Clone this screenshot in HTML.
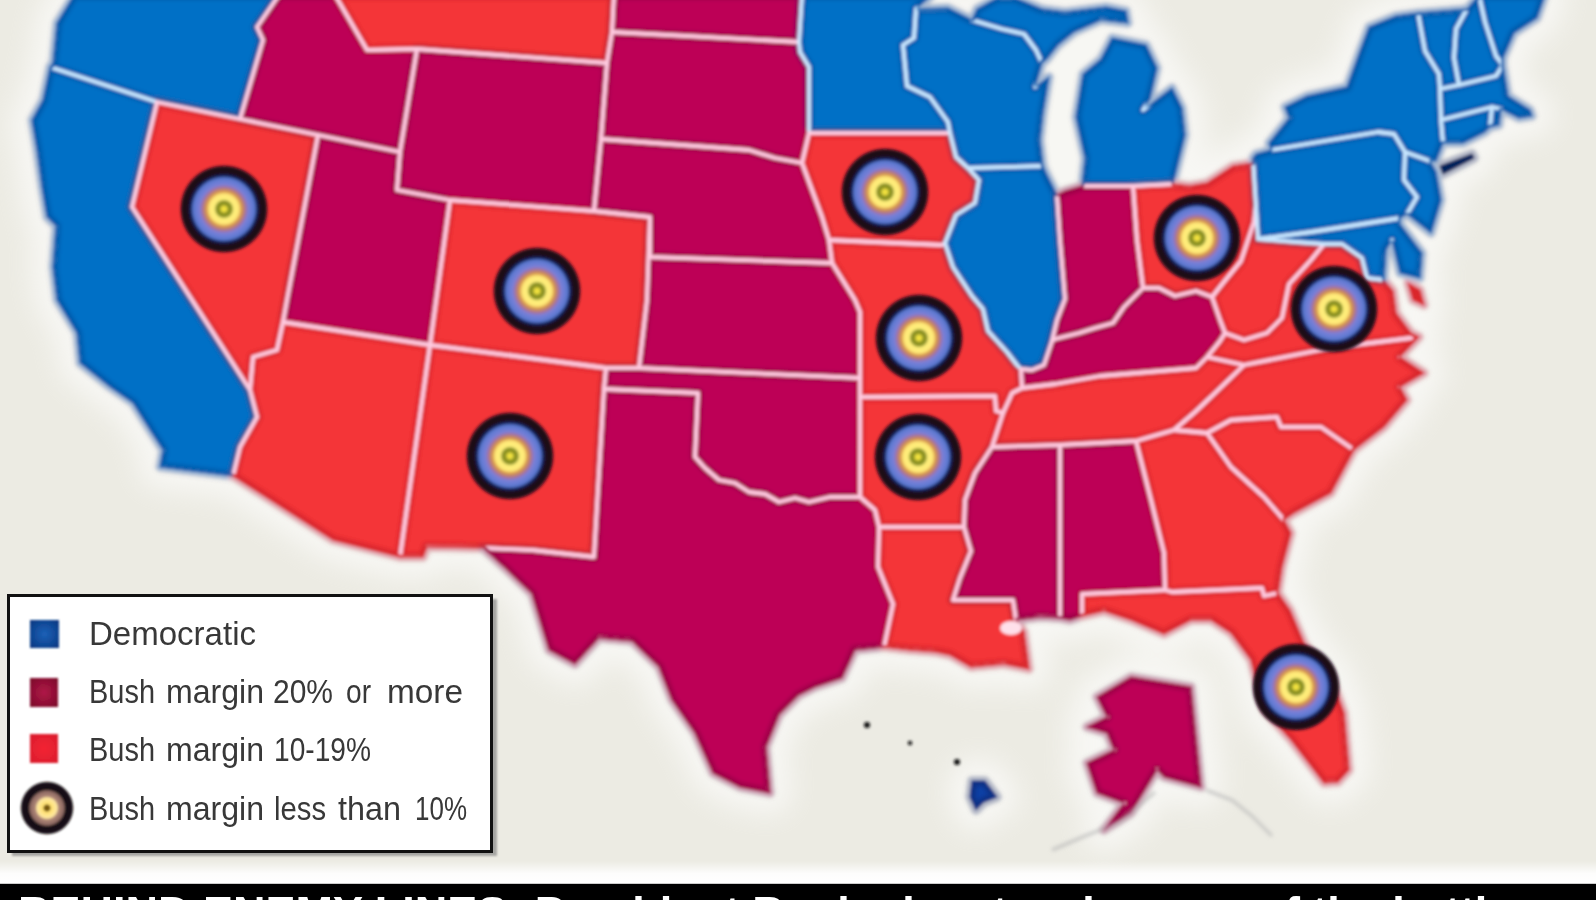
<!DOCTYPE html>
<html><head><meta charset="utf-8"><title>Map</title>
<style>
html,body{margin:0;padding:0;background:#ecebe3;}
#wrap{position:relative;width:1596px;height:900px;overflow:hidden;background:#ecebe3;font-family:"Liberation Sans",sans-serif;}
</style></head><body>
<div id="wrap">
<svg width="1596" height="900" viewBox="0 0 1596 900" style="position:absolute;left:0;top:0">
<defs>
<filter id="bl" x="-5%" y="-5%" width="110%" height="110%"><feGaussianBlur stdDeviation="1.6"/></filter>
<filter id="bl3" x="-5%" y="-5%" width="110%" height="110%"><feGaussianBlur stdDeviation="13"/></filter>
<filter id="erode" x="0" y="0" width="100%" height="100%"><feMorphology operator="erode" radius="3.4"/></filter>
<filter id="bl2" x="-20%" y="-20%" width="140%" height="140%"><feGaussianBlur stdDeviation="1.8"/></filter>
<radialGradient id="tg" cx="50%" cy="50%" r="50%">
<stop offset="0" stop-color="#f4e43c"/><stop offset="0.06" stop-color="#f0e040"/>
<stop offset="0.10" stop-color="#8a9020"/><stop offset="0.18" stop-color="#8a9020"/>
<stop offset="0.22" stop-color="#fff07a"/><stop offset="0.34" stop-color="#ffe878"/>
<stop offset="0.38" stop-color="#e0a44c"/><stop offset="0.44" stop-color="#c48460"/>
<stop offset="0.50" stop-color="#a070a4"/><stop offset="0.55" stop-color="#7c80d8"/>
<stop offset="0.70" stop-color="#5878d0"/>
<stop offset="0.75" stop-color="#10205c"/><stop offset="0.82" stop-color="#1c0818"/><stop offset="0.96" stop-color="#1c0818"/>
<stop offset="1" stop-color="#1c0818" stop-opacity="0"/>
</radialGradient>
</defs>
<rect width="1596" height="900" fill="#ecebe3"/>
<g filter="url(#bl3)" fill="#fff" stroke="#fff" stroke-width="44" stroke-linejoin="round" opacity="0.6">
<polygon points="74,-5 57,23 53,63 50,67 157,102 240,119 263,40 257,27 279,-5"/>
<polygon points="50,67 43,100 32,120 37,150 42,187 47,217 56,226 53,267 57,300 77,333 80,363 110,387 133,403 150,430 163,450 160,467 233,476 240,447 257,417 250,390 132,207 157,102"/>
<polygon points="157,102 240,119 318,135 287,300 283,322 277,350 253,357 250,390 132,207"/>
<polygon points="279,-5 257,27 263,40 240,119 318,135 400,152 417,49 367,50 335,-5"/>
<polygon points="335,-5 367,50 417,49 607,63 612,32 614,-5"/>
<polygon points="417,49 607,63 601,139 594,211 450,200 397,190 400,152"/>
<polygon points="318,135 400,152 397,190 450,200 430,345 283,322 287,300"/>
<polygon points="450,200 594,211 650,217 647,300 639,368 606,368 430,345"/>
<polygon points="283,322 430,345 400,557 333,540 233,476 240,447 257,417 250,390 253,357 277,350"/>
<polygon points="430,345 606,368 604,389 594,557 532,550 483,548 427,547 423,557 400,557"/>
<polygon points="614,-5 612,32 799,42 802,-5"/>
<polygon points="612,32 607,63 601,139 749,150 775,158 802,163 809,133 809,67 800,52 799,42"/>
<polygon points="601,139 749,150 775,158 802,163 822,217 829,240 832,263 650,257 650,217 594,211"/>
<polygon points="650,257 832,263 855,300 860,312 860,378 639,368 647,300 650,217"/>
<polygon points="606,368 639,368 860,378 860,397 860,497 849,497 830,497 809,502 795,498 779,502 765,494 749,492 735,483 719,480 705,468 695,457 698,393 604,389"/>
<polygon points="604,389 698,393 695,457 705,468 719,480 735,483 749,492 765,494 779,502 795,498 809,502 830,497 849,497 860,497 875,510 879,527 878,567 893,604 884,647 855,650 842,678 815,687 799,695 779,715 766,747 770,793 740,787 713,773 695,733 672,700 659,667 632,641 599,638 575,664 549,650 532,594 505,568 483,548 532,550 594,557"/>
<polygon points="802,-5 799,42 800,52 809,67 809,133 950,133 948,122 930,97 907,86 903,45 914,38 916,9 932,-5"/>
<polygon points="809,133 950,133 956,157 968,168 979,180 975,203 956,215 945,243 942,245 829,240 822,217 802,163"/>
<polygon points="829,240 942,245 945,243 953,267 972,296 983,309 988,331 1007,352 1017,365 1021,369 1022,388 1012,393 1009,400 1003,413 996,411 995,396 860,397 860,378 860,312 855,300 832,263"/>
<polygon points="860,397 995,396 996,411 1003,413 992,447 975,473 965,500 964,527 879,527 875,510 860,497"/>
<polygon points="879,527 964,527 971,551 960,578 953,600 1013,600 1016,620 1024,632 1029,669 1004,664 971,667 950,655 936,652 910,650 884,647 893,604 878,567"/>
<polygon points="916,9 914,38 903,45 907,86 930,97 948,122 950,133 956,157 968,168 1043,166 1040,140 1043,113 1049,77 1035,87 1042,63 1036,50 1024,34 1002,29 972,20 948,8"/>
<polygon points="968,168 1043,166 1047,175 1057,195 1060,240 1065,299 1057,320 1052,341 1044,365 1032,370 1021,369 1017,365 1007,352 988,331 983,309 972,296 953,267 945,243 945,243 956,215 975,203 979,180"/>
<polygon points="977,9 997,-2 1015,-2 1042,9 1065,12 1106,7 1126,11 1128,23 1101,20 1074,32 1058,45 1047,59 1042,63 1036,50 1024,34 1002,29 972,20"/>
<polygon points="1112,38 1146,45 1157,68 1150,99 1143,110 1172,88 1182,108 1185,135 1173,184 1133,186 1082,186 1085,158 1076,117 1083,74 1101,59"/>
<polygon points="1057,195 1065,191 1082,186 1133,186 1137,240 1143,288 1124,307 1113,323 1095,328 1079,333 1055,339 1052,341 1057,320 1065,299 1060,240"/>
<polygon points="1133,186 1173,184 1190,186 1207,183 1233,166 1253,163 1253,158 1256,205 1254,222 1241,261 1223,283 1212,297 1196,291 1175,296 1159,288 1143,288 1137,240"/>
<polygon points="1055,339 1079,333 1095,328 1113,323 1124,307 1143,288 1159,288 1175,296 1196,291 1212,297 1220,320 1225,333 1220,341 1207,357 1196,368 1100,376 1055,384 1022,388 1021,369 1032,370 1044,365 1052,341"/>
<polygon points="1022,388 1055,384 1100,376 1196,368 1207,357 1244,365 1215,393 1195,412 1174,430 1136,441 1060,445 992,447 1003,413 1009,400 1012,393"/>
<polygon points="992,447 1060,445 1060,618 1040,617 1016,620 1013,600 953,600 960,578 971,551 964,527 965,500 975,473"/>
<polygon points="1060,445 1136,441 1151,500 1164,553 1165,590 1082,594 1082,616 1070,620 1060,618"/>
<polygon points="1136,441 1174,430 1207,433 1231,467 1264,497 1284,520 1291,533 1282,567 1278,593 1264,596 1262,588 1172,592 1165,590 1164,553 1151,500"/>
<polygon points="1082,594 1165,590 1172,592 1262,588 1264,596 1278,593 1290,610 1304,643 1331,677 1344,713 1349,770 1338,782 1324,783 1291,740 1264,710 1256,680 1251,660 1231,633 1211,620 1191,620 1164,634 1131,620 1104,611 1082,616"/>
<polygon points="1244,365 1330,348 1419,337 1400,357 1424,373 1400,387 1407,400 1384,427 1354,450 1321,427 1281,427 1277,417 1231,420 1207,433 1174,430 1174,430 1195,412 1215,393"/>
<polygon points="1207,433 1231,420 1277,417 1281,427 1321,427 1354,450 1331,493 1294,513 1284,520 1264,497 1231,467"/>
<polygon points="1256,205 1258,239 1296,242 1324,244 1311,260 1289,284 1282,318 1267,333 1244,340 1225,333 1220,320 1212,297 1223,283 1241,261 1254,222"/>
<polygon points="1324,244 1342,244 1362,258 1367,278 1384,280 1393,291 1396,313 1411,333 1419,337 1330,348 1244,365 1207,357 1220,341 1225,333 1244,340 1267,333 1282,318 1289,284 1311,260"/>
<polygon points="1408,283 1420,290 1424,305 1413,300"/>
<polygon points="1253,158 1256,154 1271,150 1378,132 1394,134 1405,152 1404,180 1417,197 1407,214 1400,218 1356,225 1311,232 1258,239"/>
<polygon points="1271,150 1269,143 1289,118 1285,107 1307,96 1347,87 1360,51 1369,27 1396,16 1418,13 1425,51 1439,74 1440,89 1441,120 1443,143 1436,161 1430,161 1405,152 1394,134 1378,132"/>
<polygon points="1440,166 1472,154 1474,158 1443,174"/>
<polygon points="1418,13 1467,9 1456,29 1454,58 1459,85 1440,89 1439,74 1425,51"/>
<polygon points="1467,9 1479,-5 1485,22 1496,56 1503,65 1496,76 1459,85 1454,58 1456,29"/>
<polygon points="1479,-5 1545,-5 1537,18 1514,33 1503,58 1503,65 1496,56 1485,22"/>
<polygon points="1440,89 1459,85 1496,76 1503,65 1508,96 1530,110 1532,116 1519,118 1501,109 1492,107 1441,120"/>
<polygon points="1441,120 1492,107 1490,127 1485,132 1463,143 1443,143"/>
<polygon points="1492,107 1501,109 1499,125 1490,127"/>
<polygon points="1405,152 1430,161 1436,172 1441,200 1431,233 1407,214 1417,197 1404,180"/>
<polygon points="1258,239 1311,232 1356,225 1400,218 1400,224 1422,253 1420,278 1400,273 1392,240 1386,250 1384,280 1367,278 1362,258 1342,244 1324,244 1296,242"/>
<polygon points="1131,677 1191,687 1201,787 1164,777 1157,770 1131,813 1104,830 1124,803 1097,793 1087,763 1114,750 1107,733 1087,727 1107,717 1097,697"/>
<polygon points="972,781 985,781 997,797 984,802 976,810 970,797"/>
</g>
<g filter="url(#bl)">
<g fill="#fff" stroke="#fff" stroke-width="9" stroke-linejoin="round" opacity="0.9">
<polygon points="74,-5 57,23 53,63 50,67 157,102 240,119 263,40 257,27 279,-5"/>
<polygon points="50,67 43,100 32,120 37,150 42,187 47,217 56,226 53,267 57,300 77,333 80,363 110,387 133,403 150,430 163,450 160,467 233,476 240,447 257,417 250,390 132,207 157,102"/>
<polygon points="157,102 240,119 318,135 287,300 283,322 277,350 253,357 250,390 132,207"/>
<polygon points="279,-5 257,27 263,40 240,119 318,135 400,152 417,49 367,50 335,-5"/>
<polygon points="335,-5 367,50 417,49 607,63 612,32 614,-5"/>
<polygon points="417,49 607,63 601,139 594,211 450,200 397,190 400,152"/>
<polygon points="318,135 400,152 397,190 450,200 430,345 283,322 287,300"/>
<polygon points="450,200 594,211 650,217 647,300 639,368 606,368 430,345"/>
<polygon points="283,322 430,345 400,557 333,540 233,476 240,447 257,417 250,390 253,357 277,350"/>
<polygon points="430,345 606,368 604,389 594,557 532,550 483,548 427,547 423,557 400,557"/>
<polygon points="614,-5 612,32 799,42 802,-5"/>
<polygon points="612,32 607,63 601,139 749,150 775,158 802,163 809,133 809,67 800,52 799,42"/>
<polygon points="601,139 749,150 775,158 802,163 822,217 829,240 832,263 650,257 650,217 594,211"/>
<polygon points="650,257 832,263 855,300 860,312 860,378 639,368 647,300 650,217"/>
<polygon points="606,368 639,368 860,378 860,397 860,497 849,497 830,497 809,502 795,498 779,502 765,494 749,492 735,483 719,480 705,468 695,457 698,393 604,389"/>
<polygon points="604,389 698,393 695,457 705,468 719,480 735,483 749,492 765,494 779,502 795,498 809,502 830,497 849,497 860,497 875,510 879,527 878,567 893,604 884,647 855,650 842,678 815,687 799,695 779,715 766,747 770,793 740,787 713,773 695,733 672,700 659,667 632,641 599,638 575,664 549,650 532,594 505,568 483,548 532,550 594,557"/>
<polygon points="802,-5 799,42 800,52 809,67 809,133 950,133 948,122 930,97 907,86 903,45 914,38 916,9 932,-5"/>
<polygon points="809,133 950,133 956,157 968,168 979,180 975,203 956,215 945,243 942,245 829,240 822,217 802,163"/>
<polygon points="829,240 942,245 945,243 953,267 972,296 983,309 988,331 1007,352 1017,365 1021,369 1022,388 1012,393 1009,400 1003,413 996,411 995,396 860,397 860,378 860,312 855,300 832,263"/>
<polygon points="860,397 995,396 996,411 1003,413 992,447 975,473 965,500 964,527 879,527 875,510 860,497"/>
<polygon points="879,527 964,527 971,551 960,578 953,600 1013,600 1016,620 1024,632 1029,669 1004,664 971,667 950,655 936,652 910,650 884,647 893,604 878,567"/>
<polygon points="916,9 914,38 903,45 907,86 930,97 948,122 950,133 956,157 968,168 1043,166 1040,140 1043,113 1049,77 1035,87 1042,63 1036,50 1024,34 1002,29 972,20 948,8"/>
<polygon points="968,168 1043,166 1047,175 1057,195 1060,240 1065,299 1057,320 1052,341 1044,365 1032,370 1021,369 1017,365 1007,352 988,331 983,309 972,296 953,267 945,243 945,243 956,215 975,203 979,180"/>
<polygon points="977,9 997,-2 1015,-2 1042,9 1065,12 1106,7 1126,11 1128,23 1101,20 1074,32 1058,45 1047,59 1042,63 1036,50 1024,34 1002,29 972,20"/>
<polygon points="1112,38 1146,45 1157,68 1150,99 1143,110 1172,88 1182,108 1185,135 1173,184 1133,186 1082,186 1085,158 1076,117 1083,74 1101,59"/>
<polygon points="1057,195 1065,191 1082,186 1133,186 1137,240 1143,288 1124,307 1113,323 1095,328 1079,333 1055,339 1052,341 1057,320 1065,299 1060,240"/>
<polygon points="1133,186 1173,184 1190,186 1207,183 1233,166 1253,163 1253,158 1256,205 1254,222 1241,261 1223,283 1212,297 1196,291 1175,296 1159,288 1143,288 1137,240"/>
<polygon points="1055,339 1079,333 1095,328 1113,323 1124,307 1143,288 1159,288 1175,296 1196,291 1212,297 1220,320 1225,333 1220,341 1207,357 1196,368 1100,376 1055,384 1022,388 1021,369 1032,370 1044,365 1052,341"/>
<polygon points="1022,388 1055,384 1100,376 1196,368 1207,357 1244,365 1215,393 1195,412 1174,430 1136,441 1060,445 992,447 1003,413 1009,400 1012,393"/>
<polygon points="992,447 1060,445 1060,618 1040,617 1016,620 1013,600 953,600 960,578 971,551 964,527 965,500 975,473"/>
<polygon points="1060,445 1136,441 1151,500 1164,553 1165,590 1082,594 1082,616 1070,620 1060,618"/>
<polygon points="1136,441 1174,430 1207,433 1231,467 1264,497 1284,520 1291,533 1282,567 1278,593 1264,596 1262,588 1172,592 1165,590 1164,553 1151,500"/>
<polygon points="1082,594 1165,590 1172,592 1262,588 1264,596 1278,593 1290,610 1304,643 1331,677 1344,713 1349,770 1338,782 1324,783 1291,740 1264,710 1256,680 1251,660 1231,633 1211,620 1191,620 1164,634 1131,620 1104,611 1082,616"/>
<polygon points="1244,365 1330,348 1419,337 1400,357 1424,373 1400,387 1407,400 1384,427 1354,450 1321,427 1281,427 1277,417 1231,420 1207,433 1174,430 1174,430 1195,412 1215,393"/>
<polygon points="1207,433 1231,420 1277,417 1281,427 1321,427 1354,450 1331,493 1294,513 1284,520 1264,497 1231,467"/>
<polygon points="1256,205 1258,239 1296,242 1324,244 1311,260 1289,284 1282,318 1267,333 1244,340 1225,333 1220,320 1212,297 1223,283 1241,261 1254,222"/>
<polygon points="1324,244 1342,244 1362,258 1367,278 1384,280 1393,291 1396,313 1411,333 1419,337 1330,348 1244,365 1207,357 1220,341 1225,333 1244,340 1267,333 1282,318 1289,284 1311,260"/>
<polygon points="1408,283 1420,290 1424,305 1413,300"/>
<polygon points="1253,158 1256,154 1271,150 1378,132 1394,134 1405,152 1404,180 1417,197 1407,214 1400,218 1356,225 1311,232 1258,239"/>
<polygon points="1271,150 1269,143 1289,118 1285,107 1307,96 1347,87 1360,51 1369,27 1396,16 1418,13 1425,51 1439,74 1440,89 1441,120 1443,143 1436,161 1430,161 1405,152 1394,134 1378,132"/>
<polygon points="1440,166 1472,154 1474,158 1443,174"/>
<polygon points="1418,13 1467,9 1456,29 1454,58 1459,85 1440,89 1439,74 1425,51"/>
<polygon points="1467,9 1479,-5 1485,22 1496,56 1503,65 1496,76 1459,85 1454,58 1456,29"/>
<polygon points="1479,-5 1545,-5 1537,18 1514,33 1503,58 1503,65 1496,56 1485,22"/>
<polygon points="1440,89 1459,85 1496,76 1503,65 1508,96 1530,110 1532,116 1519,118 1501,109 1492,107 1441,120"/>
<polygon points="1441,120 1492,107 1490,127 1485,132 1463,143 1443,143"/>
<polygon points="1492,107 1501,109 1499,125 1490,127"/>
<polygon points="1405,152 1430,161 1436,172 1441,200 1431,233 1407,214 1417,197 1404,180"/>
<polygon points="1258,239 1311,232 1356,225 1400,218 1400,224 1422,253 1420,278 1400,273 1392,240 1386,250 1384,280 1367,278 1362,258 1342,244 1324,244 1296,242"/>
<polygon points="1131,677 1191,687 1201,787 1164,777 1157,770 1131,813 1104,830 1124,803 1097,793 1087,763 1114,750 1107,733 1087,727 1107,717 1097,697"/>
<polygon points="972,781 985,781 997,797 984,802 976,810 970,797"/>
</g>
<g fill="none" stroke-linejoin="round" stroke-width="5.5" opacity="0.85">
<polygon points="74,-5 57,23 53,63 50,67 157,102 240,119 263,40 257,27 279,-5" stroke="#d4ebff"/>
<polygon points="50,67 43,100 32,120 37,150 42,187 47,217 56,226 53,267 57,300 77,333 80,363 110,387 133,403 150,430 163,450 160,467 233,476 240,447 257,417 250,390 132,207 157,102" stroke="#d4ebff"/>
<polygon points="157,102 240,119 318,135 287,300 283,322 277,350 253,357 250,390 132,207" stroke="#ffd9e6"/>
<polygon points="279,-5 257,27 263,40 240,119 318,135 400,152 417,49 367,50 335,-5" stroke="#ffd9e6"/>
<polygon points="335,-5 367,50 417,49 607,63 612,32 614,-5" stroke="#ffd9e6"/>
<polygon points="417,49 607,63 601,139 594,211 450,200 397,190 400,152" stroke="#ffd9e6"/>
<polygon points="318,135 400,152 397,190 450,200 430,345 283,322 287,300" stroke="#ffd9e6"/>
<polygon points="450,200 594,211 650,217 647,300 639,368 606,368 430,345" stroke="#ffd9e6"/>
<polygon points="283,322 430,345 400,557 333,540 233,476 240,447 257,417 250,390 253,357 277,350" stroke="#ffd9e6"/>
<polygon points="430,345 606,368 604,389 594,557 532,550 483,548 427,547 423,557 400,557" stroke="#ffd9e6"/>
<polygon points="614,-5 612,32 799,42 802,-5" stroke="#ffd9e6"/>
<polygon points="612,32 607,63 601,139 749,150 775,158 802,163 809,133 809,67 800,52 799,42" stroke="#ffd9e6"/>
<polygon points="601,139 749,150 775,158 802,163 822,217 829,240 832,263 650,257 650,217 594,211" stroke="#ffd9e6"/>
<polygon points="650,257 832,263 855,300 860,312 860,378 639,368 647,300 650,217" stroke="#ffd9e6"/>
<polygon points="606,368 639,368 860,378 860,397 860,497 849,497 830,497 809,502 795,498 779,502 765,494 749,492 735,483 719,480 705,468 695,457 698,393 604,389" stroke="#ffd9e6"/>
<polygon points="604,389 698,393 695,457 705,468 719,480 735,483 749,492 765,494 779,502 795,498 809,502 830,497 849,497 860,497 875,510 879,527 878,567 893,604 884,647 855,650 842,678 815,687 799,695 779,715 766,747 770,793 740,787 713,773 695,733 672,700 659,667 632,641 599,638 575,664 549,650 532,594 505,568 483,548 532,550 594,557" stroke="#ffd9e6"/>
<polygon points="802,-5 799,42 800,52 809,67 809,133 950,133 948,122 930,97 907,86 903,45 914,38 916,9 932,-5" stroke="#d4ebff"/>
<polygon points="809,133 950,133 956,157 968,168 979,180 975,203 956,215 945,243 942,245 829,240 822,217 802,163" stroke="#ffd9e6"/>
<polygon points="829,240 942,245 945,243 953,267 972,296 983,309 988,331 1007,352 1017,365 1021,369 1022,388 1012,393 1009,400 1003,413 996,411 995,396 860,397 860,378 860,312 855,300 832,263" stroke="#ffd9e6"/>
<polygon points="860,397 995,396 996,411 1003,413 992,447 975,473 965,500 964,527 879,527 875,510 860,497" stroke="#ffd9e6"/>
<polygon points="879,527 964,527 971,551 960,578 953,600 1013,600 1016,620 1024,632 1029,669 1004,664 971,667 950,655 936,652 910,650 884,647 893,604 878,567" stroke="#ffd9e6"/>
<polygon points="916,9 914,38 903,45 907,86 930,97 948,122 950,133 956,157 968,168 1043,166 1040,140 1043,113 1049,77 1035,87 1042,63 1036,50 1024,34 1002,29 972,20 948,8" stroke="#d4ebff"/>
<polygon points="968,168 1043,166 1047,175 1057,195 1060,240 1065,299 1057,320 1052,341 1044,365 1032,370 1021,369 1017,365 1007,352 988,331 983,309 972,296 953,267 945,243 945,243 956,215 975,203 979,180" stroke="#d4ebff"/>
<polygon points="977,9 997,-2 1015,-2 1042,9 1065,12 1106,7 1126,11 1128,23 1101,20 1074,32 1058,45 1047,59 1042,63 1036,50 1024,34 1002,29 972,20" stroke="#d4ebff"/>
<polygon points="1112,38 1146,45 1157,68 1150,99 1143,110 1172,88 1182,108 1185,135 1173,184 1133,186 1082,186 1085,158 1076,117 1083,74 1101,59" stroke="#d4ebff"/>
<polygon points="1057,195 1065,191 1082,186 1133,186 1137,240 1143,288 1124,307 1113,323 1095,328 1079,333 1055,339 1052,341 1057,320 1065,299 1060,240" stroke="#ffd9e6"/>
<polygon points="1133,186 1173,184 1190,186 1207,183 1233,166 1253,163 1253,158 1256,205 1254,222 1241,261 1223,283 1212,297 1196,291 1175,296 1159,288 1143,288 1137,240" stroke="#ffd9e6"/>
<polygon points="1055,339 1079,333 1095,328 1113,323 1124,307 1143,288 1159,288 1175,296 1196,291 1212,297 1220,320 1225,333 1220,341 1207,357 1196,368 1100,376 1055,384 1022,388 1021,369 1032,370 1044,365 1052,341" stroke="#ffd9e6"/>
<polygon points="1022,388 1055,384 1100,376 1196,368 1207,357 1244,365 1215,393 1195,412 1174,430 1136,441 1060,445 992,447 1003,413 1009,400 1012,393" stroke="#ffd9e6"/>
<polygon points="992,447 1060,445 1060,618 1040,617 1016,620 1013,600 953,600 960,578 971,551 964,527 965,500 975,473" stroke="#ffd9e6"/>
<polygon points="1060,445 1136,441 1151,500 1164,553 1165,590 1082,594 1082,616 1070,620 1060,618" stroke="#ffd9e6"/>
<polygon points="1136,441 1174,430 1207,433 1231,467 1264,497 1284,520 1291,533 1282,567 1278,593 1264,596 1262,588 1172,592 1165,590 1164,553 1151,500" stroke="#ffd9e6"/>
<polygon points="1082,594 1165,590 1172,592 1262,588 1264,596 1278,593 1290,610 1304,643 1331,677 1344,713 1349,770 1338,782 1324,783 1291,740 1264,710 1256,680 1251,660 1231,633 1211,620 1191,620 1164,634 1131,620 1104,611 1082,616" stroke="#ffd9e6"/>
<polygon points="1244,365 1330,348 1419,337 1400,357 1424,373 1400,387 1407,400 1384,427 1354,450 1321,427 1281,427 1277,417 1231,420 1207,433 1174,430 1174,430 1195,412 1215,393" stroke="#ffd9e6"/>
<polygon points="1207,433 1231,420 1277,417 1281,427 1321,427 1354,450 1331,493 1294,513 1284,520 1264,497 1231,467" stroke="#ffd9e6"/>
<polygon points="1256,205 1258,239 1296,242 1324,244 1311,260 1289,284 1282,318 1267,333 1244,340 1225,333 1220,320 1212,297 1223,283 1241,261 1254,222" stroke="#ffd9e6"/>
<polygon points="1324,244 1342,244 1362,258 1367,278 1384,280 1393,291 1396,313 1411,333 1419,337 1330,348 1244,365 1207,357 1220,341 1225,333 1244,340 1267,333 1282,318 1289,284 1311,260" stroke="#ffd9e6"/>
<polygon points="1408,283 1420,290 1424,305 1413,300" stroke="#ffd9e6"/>
<polygon points="1253,158 1256,154 1271,150 1378,132 1394,134 1405,152 1404,180 1417,197 1407,214 1400,218 1356,225 1311,232 1258,239" stroke="#d4ebff"/>
<polygon points="1271,150 1269,143 1289,118 1285,107 1307,96 1347,87 1360,51 1369,27 1396,16 1418,13 1425,51 1439,74 1440,89 1441,120 1443,143 1436,161 1430,161 1405,152 1394,134 1378,132" stroke="#d4ebff"/>
<polygon points="1418,13 1467,9 1456,29 1454,58 1459,85 1440,89 1439,74 1425,51" stroke="#d4ebff"/>
<polygon points="1467,9 1479,-5 1485,22 1496,56 1503,65 1496,76 1459,85 1454,58 1456,29" stroke="#d4ebff"/>
<polygon points="1479,-5 1545,-5 1537,18 1514,33 1503,58 1503,65 1496,56 1485,22" stroke="#d4ebff"/>
<polygon points="1440,89 1459,85 1496,76 1503,65 1508,96 1530,110 1532,116 1519,118 1501,109 1492,107 1441,120" stroke="#d4ebff"/>
<polygon points="1441,120 1492,107 1490,127 1485,132 1463,143 1443,143" stroke="#d4ebff"/>
<polygon points="1492,107 1501,109 1499,125 1490,127" stroke="#d4ebff"/>
<polygon points="1405,152 1430,161 1436,172 1441,200 1431,233 1407,214 1417,197 1404,180" stroke="#d4ebff"/>
<polygon points="1258,239 1311,232 1356,225 1400,218 1400,224 1422,253 1420,278 1400,273 1392,240 1386,250 1384,280 1367,278 1362,258 1342,244 1324,244 1296,242" stroke="#d4ebff"/>
<polygon points="1131,677 1191,687 1201,787 1164,777 1157,770 1131,813 1104,830 1124,803 1097,793 1087,763 1114,750 1107,733 1087,727 1107,717 1097,697" stroke="#ffd9e6"/>
</g>
<polygon points="74,-5 57,23 53,63 50,67 157,102 240,119 263,40 257,27 279,-5" fill="#0570c6" stroke="#0570c6" stroke-width="1"/>
<polygon points="50,67 43,100 32,120 37,150 42,187 47,217 56,226 53,267 57,300 77,333 80,363 110,387 133,403 150,430 163,450 160,467 233,476 240,447 257,417 250,390 132,207 157,102" fill="#0570c6" stroke="#0570c6" stroke-width="1"/>
<polygon points="157,102 240,119 318,135 287,300 283,322 277,350 253,357 250,390 132,207" fill="#f43437" stroke="#f43437" stroke-width="1"/>
<polygon points="279,-5 257,27 263,40 240,119 318,135 400,152 417,49 367,50 335,-5" fill="#bd0157" stroke="#bd0157" stroke-width="1"/>
<polygon points="335,-5 367,50 417,49 607,63 612,32 614,-5" fill="#f43437" stroke="#f43437" stroke-width="1"/>
<polygon points="417,49 607,63 601,139 594,211 450,200 397,190 400,152" fill="#bd0157" stroke="#bd0157" stroke-width="1"/>
<polygon points="318,135 400,152 397,190 450,200 430,345 283,322 287,300" fill="#bd0157" stroke="#bd0157" stroke-width="1"/>
<polygon points="450,200 594,211 650,217 647,300 639,368 606,368 430,345" fill="#f43437" stroke="#f43437" stroke-width="1"/>
<polygon points="283,322 430,345 400,557 333,540 233,476 240,447 257,417 250,390 253,357 277,350" fill="#f43437" stroke="#f43437" stroke-width="1"/>
<polygon points="430,345 606,368 604,389 594,557 532,550 483,548 427,547 423,557 400,557" fill="#f43437" stroke="#f43437" stroke-width="1"/>
<polygon points="614,-5 612,32 799,42 802,-5" fill="#bd0157" stroke="#bd0157" stroke-width="1"/>
<polygon points="612,32 607,63 601,139 749,150 775,158 802,163 809,133 809,67 800,52 799,42" fill="#bd0157" stroke="#bd0157" stroke-width="1"/>
<polygon points="601,139 749,150 775,158 802,163 822,217 829,240 832,263 650,257 650,217 594,211" fill="#bd0157" stroke="#bd0157" stroke-width="1"/>
<polygon points="650,257 832,263 855,300 860,312 860,378 639,368 647,300 650,217" fill="#bd0157" stroke="#bd0157" stroke-width="1"/>
<polygon points="606,368 639,368 860,378 860,397 860,497 849,497 830,497 809,502 795,498 779,502 765,494 749,492 735,483 719,480 705,468 695,457 698,393 604,389" fill="#bd0157" stroke="#bd0157" stroke-width="1"/>
<polygon points="604,389 698,393 695,457 705,468 719,480 735,483 749,492 765,494 779,502 795,498 809,502 830,497 849,497 860,497 875,510 879,527 878,567 893,604 884,647 855,650 842,678 815,687 799,695 779,715 766,747 770,793 740,787 713,773 695,733 672,700 659,667 632,641 599,638 575,664 549,650 532,594 505,568 483,548 532,550 594,557" fill="#bd0157" stroke="#bd0157" stroke-width="1"/>
<polygon points="802,-5 799,42 800,52 809,67 809,133 950,133 948,122 930,97 907,86 903,45 914,38 916,9 932,-5" fill="#0570c6" stroke="#0570c6" stroke-width="1"/>
<polygon points="809,133 950,133 956,157 968,168 979,180 975,203 956,215 945,243 942,245 829,240 822,217 802,163" fill="#f43437" stroke="#f43437" stroke-width="1"/>
<polygon points="829,240 942,245 945,243 953,267 972,296 983,309 988,331 1007,352 1017,365 1021,369 1022,388 1012,393 1009,400 1003,413 996,411 995,396 860,397 860,378 860,312 855,300 832,263" fill="#f43437" stroke="#f43437" stroke-width="1"/>
<polygon points="860,397 995,396 996,411 1003,413 992,447 975,473 965,500 964,527 879,527 875,510 860,497" fill="#f43437" stroke="#f43437" stroke-width="1"/>
<polygon points="879,527 964,527 971,551 960,578 953,600 1013,600 1016,620 1024,632 1029,669 1004,664 971,667 950,655 936,652 910,650 884,647 893,604 878,567" fill="#f43437" stroke="#f43437" stroke-width="1"/>
<polygon points="916,9 914,38 903,45 907,86 930,97 948,122 950,133 956,157 968,168 1043,166 1040,140 1043,113 1049,77 1035,87 1042,63 1036,50 1024,34 1002,29 972,20 948,8" fill="#0570c6" stroke="#0570c6" stroke-width="1"/>
<polygon points="968,168 1043,166 1047,175 1057,195 1060,240 1065,299 1057,320 1052,341 1044,365 1032,370 1021,369 1017,365 1007,352 988,331 983,309 972,296 953,267 945,243 945,243 956,215 975,203 979,180" fill="#0570c6" stroke="#0570c6" stroke-width="1"/>
<polygon points="977,9 997,-2 1015,-2 1042,9 1065,12 1106,7 1126,11 1128,23 1101,20 1074,32 1058,45 1047,59 1042,63 1036,50 1024,34 1002,29 972,20" fill="#0570c6" stroke="#0570c6" stroke-width="1"/>
<polygon points="1112,38 1146,45 1157,68 1150,99 1143,110 1172,88 1182,108 1185,135 1173,184 1133,186 1082,186 1085,158 1076,117 1083,74 1101,59" fill="#0570c6" stroke="#0570c6" stroke-width="1"/>
<polygon points="1057,195 1065,191 1082,186 1133,186 1137,240 1143,288 1124,307 1113,323 1095,328 1079,333 1055,339 1052,341 1057,320 1065,299 1060,240" fill="#bd0157" stroke="#bd0157" stroke-width="1"/>
<polygon points="1133,186 1173,184 1190,186 1207,183 1233,166 1253,163 1253,158 1256,205 1254,222 1241,261 1223,283 1212,297 1196,291 1175,296 1159,288 1143,288 1137,240" fill="#f43437" stroke="#f43437" stroke-width="1"/>
<polygon points="1055,339 1079,333 1095,328 1113,323 1124,307 1143,288 1159,288 1175,296 1196,291 1212,297 1220,320 1225,333 1220,341 1207,357 1196,368 1100,376 1055,384 1022,388 1021,369 1032,370 1044,365 1052,341" fill="#bd0157" stroke="#bd0157" stroke-width="1"/>
<polygon points="1022,388 1055,384 1100,376 1196,368 1207,357 1244,365 1215,393 1195,412 1174,430 1136,441 1060,445 992,447 1003,413 1009,400 1012,393" fill="#f43437" stroke="#f43437" stroke-width="1"/>
<polygon points="992,447 1060,445 1060,618 1040,617 1016,620 1013,600 953,600 960,578 971,551 964,527 965,500 975,473" fill="#bd0157" stroke="#bd0157" stroke-width="1"/>
<polygon points="1060,445 1136,441 1151,500 1164,553 1165,590 1082,594 1082,616 1070,620 1060,618" fill="#bd0157" stroke="#bd0157" stroke-width="1"/>
<polygon points="1136,441 1174,430 1207,433 1231,467 1264,497 1284,520 1291,533 1282,567 1278,593 1264,596 1262,588 1172,592 1165,590 1164,553 1151,500" fill="#f43437" stroke="#f43437" stroke-width="1"/>
<polygon points="1082,594 1165,590 1172,592 1262,588 1264,596 1278,593 1290,610 1304,643 1331,677 1344,713 1349,770 1338,782 1324,783 1291,740 1264,710 1256,680 1251,660 1231,633 1211,620 1191,620 1164,634 1131,620 1104,611 1082,616" fill="#f43437" stroke="#f43437" stroke-width="1"/>
<polygon points="1244,365 1330,348 1419,337 1400,357 1424,373 1400,387 1407,400 1384,427 1354,450 1321,427 1281,427 1277,417 1231,420 1207,433 1174,430 1174,430 1195,412 1215,393" fill="#f43437" stroke="#f43437" stroke-width="1"/>
<polygon points="1207,433 1231,420 1277,417 1281,427 1321,427 1354,450 1331,493 1294,513 1284,520 1264,497 1231,467" fill="#f43437" stroke="#f43437" stroke-width="1"/>
<polygon points="1256,205 1258,239 1296,242 1324,244 1311,260 1289,284 1282,318 1267,333 1244,340 1225,333 1220,320 1212,297 1223,283 1241,261 1254,222" fill="#f43437" stroke="#f43437" stroke-width="1"/>
<polygon points="1324,244 1342,244 1362,258 1367,278 1384,280 1393,291 1396,313 1411,333 1419,337 1330,348 1244,365 1207,357 1220,341 1225,333 1244,340 1267,333 1282,318 1289,284 1311,260" fill="#f43437" stroke="#f43437" stroke-width="1"/>
<polygon points="1408,283 1420,290 1424,305 1413,300" fill="#f43437" stroke="#f43437" stroke-width="1"/>
<polygon points="1253,158 1256,154 1271,150 1378,132 1394,134 1405,152 1404,180 1417,197 1407,214 1400,218 1356,225 1311,232 1258,239" fill="#0570c6" stroke="#0570c6" stroke-width="1"/>
<polygon points="1271,150 1269,143 1289,118 1285,107 1307,96 1347,87 1360,51 1369,27 1396,16 1418,13 1425,51 1439,74 1440,89 1441,120 1443,143 1436,161 1430,161 1405,152 1394,134 1378,132" fill="#0570c6" stroke="#0570c6" stroke-width="1"/>
<polygon points="1440,166 1472,154 1474,158 1443,174" fill="#0a2a66" stroke="#0a2a66" stroke-width="1"/>
<polygon points="1418,13 1467,9 1456,29 1454,58 1459,85 1440,89 1439,74 1425,51" fill="#0570c6" stroke="#0570c6" stroke-width="1"/>
<polygon points="1467,9 1479,-5 1485,22 1496,56 1503,65 1496,76 1459,85 1454,58 1456,29" fill="#0570c6" stroke="#0570c6" stroke-width="1"/>
<polygon points="1479,-5 1545,-5 1537,18 1514,33 1503,58 1503,65 1496,56 1485,22" fill="#0570c6" stroke="#0570c6" stroke-width="1"/>
<polygon points="1440,89 1459,85 1496,76 1503,65 1508,96 1530,110 1532,116 1519,118 1501,109 1492,107 1441,120" fill="#0570c6" stroke="#0570c6" stroke-width="1"/>
<polygon points="1441,120 1492,107 1490,127 1485,132 1463,143 1443,143" fill="#0570c6" stroke="#0570c6" stroke-width="1"/>
<polygon points="1492,107 1501,109 1499,125 1490,127" fill="#0570c6" stroke="#0570c6" stroke-width="1"/>
<polygon points="1405,152 1430,161 1436,172 1441,200 1431,233 1407,214 1417,197 1404,180" fill="#0570c6" stroke="#0570c6" stroke-width="1"/>
<polygon points="1258,239 1311,232 1356,225 1400,218 1400,224 1422,253 1420,278 1400,273 1392,240 1386,250 1384,280 1367,278 1362,258 1342,244 1324,244 1296,242" fill="#0570c6" stroke="#0570c6" stroke-width="1"/>
<polygon points="1131,677 1191,687 1201,787 1164,777 1157,770 1131,813 1104,830 1124,803 1097,793 1087,763 1114,750 1107,733 1087,727 1107,717 1097,697" fill="#bd0157" stroke="#bd0157" stroke-width="1"/>
<polygon points="972,781 985,781 997,797 984,802 976,810 970,797" fill="#0b40a4" stroke="#0b40a4" stroke-width="1"/>
<g fill="none" stroke-linejoin="round" opacity="0.30" filter="url(#bl2)">
<polygon points="74,-5 57,23 53,63 50,67 157,102 240,119 263,40 257,27 279,-5" stroke="#002a70" stroke-width="10"/>
<polygon points="50,67 43,100 32,120 37,150 42,187 47,217 56,226 53,267 57,300 77,333 80,363 110,387 133,403 150,430 163,450 160,467 233,476 240,447 257,417 250,390 132,207 157,102" stroke="#002a70" stroke-width="10"/>
<polygon points="157,102 240,119 318,135 287,300 283,322 277,350 253,357 250,390 132,207" stroke="#a00818" stroke-width="10"/>
<polygon points="279,-5 257,27 263,40 240,119 318,135 400,152 417,49 367,50 335,-5" stroke="#5a0028" stroke-width="10"/>
<polygon points="335,-5 367,50 417,49 607,63 612,32 614,-5" stroke="#a00818" stroke-width="10"/>
<polygon points="417,49 607,63 601,139 594,211 450,200 397,190 400,152" stroke="#5a0028" stroke-width="10"/>
<polygon points="318,135 400,152 397,190 450,200 430,345 283,322 287,300" stroke="#5a0028" stroke-width="10"/>
<polygon points="450,200 594,211 650,217 647,300 639,368 606,368 430,345" stroke="#a00818" stroke-width="10"/>
<polygon points="283,322 430,345 400,557 333,540 233,476 240,447 257,417 250,390 253,357 277,350" stroke="#a00818" stroke-width="10"/>
<polygon points="430,345 606,368 604,389 594,557 532,550 483,548 427,547 423,557 400,557" stroke="#a00818" stroke-width="10"/>
<polygon points="614,-5 612,32 799,42 802,-5" stroke="#5a0028" stroke-width="10"/>
<polygon points="612,32 607,63 601,139 749,150 775,158 802,163 809,133 809,67 800,52 799,42" stroke="#5a0028" stroke-width="10"/>
<polygon points="601,139 749,150 775,158 802,163 822,217 829,240 832,263 650,257 650,217 594,211" stroke="#5a0028" stroke-width="10"/>
<polygon points="650,257 832,263 855,300 860,312 860,378 639,368 647,300 650,217" stroke="#5a0028" stroke-width="10"/>
<polygon points="606,368 639,368 860,378 860,397 860,497 849,497 830,497 809,502 795,498 779,502 765,494 749,492 735,483 719,480 705,468 695,457 698,393 604,389" stroke="#5a0028" stroke-width="10"/>
<polygon points="604,389 698,393 695,457 705,468 719,480 735,483 749,492 765,494 779,502 795,498 809,502 830,497 849,497 860,497 875,510 879,527 878,567 893,604 884,647 855,650 842,678 815,687 799,695 779,715 766,747 770,793 740,787 713,773 695,733 672,700 659,667 632,641 599,638 575,664 549,650 532,594 505,568 483,548 532,550 594,557" stroke="#5a0028" stroke-width="10"/>
<polygon points="802,-5 799,42 800,52 809,67 809,133 950,133 948,122 930,97 907,86 903,45 914,38 916,9 932,-5" stroke="#002a70" stroke-width="10"/>
<polygon points="809,133 950,133 956,157 968,168 979,180 975,203 956,215 945,243 942,245 829,240 822,217 802,163" stroke="#a00818" stroke-width="10"/>
<polygon points="829,240 942,245 945,243 953,267 972,296 983,309 988,331 1007,352 1017,365 1021,369 1022,388 1012,393 1009,400 1003,413 996,411 995,396 860,397 860,378 860,312 855,300 832,263" stroke="#a00818" stroke-width="10"/>
<polygon points="860,397 995,396 996,411 1003,413 992,447 975,473 965,500 964,527 879,527 875,510 860,497" stroke="#a00818" stroke-width="10"/>
<polygon points="879,527 964,527 971,551 960,578 953,600 1013,600 1016,620 1024,632 1029,669 1004,664 971,667 950,655 936,652 910,650 884,647 893,604 878,567" stroke="#a00818" stroke-width="10"/>
<polygon points="916,9 914,38 903,45 907,86 930,97 948,122 950,133 956,157 968,168 1043,166 1040,140 1043,113 1049,77 1035,87 1042,63 1036,50 1024,34 1002,29 972,20 948,8" stroke="#002a70" stroke-width="10"/>
<polygon points="968,168 1043,166 1047,175 1057,195 1060,240 1065,299 1057,320 1052,341 1044,365 1032,370 1021,369 1017,365 1007,352 988,331 983,309 972,296 953,267 945,243 945,243 956,215 975,203 979,180" stroke="#002a70" stroke-width="10"/>
<polygon points="977,9 997,-2 1015,-2 1042,9 1065,12 1106,7 1126,11 1128,23 1101,20 1074,32 1058,45 1047,59 1042,63 1036,50 1024,34 1002,29 972,20" stroke="#002a70" stroke-width="10"/>
<polygon points="1112,38 1146,45 1157,68 1150,99 1143,110 1172,88 1182,108 1185,135 1173,184 1133,186 1082,186 1085,158 1076,117 1083,74 1101,59" stroke="#002a70" stroke-width="10"/>
<polygon points="1057,195 1065,191 1082,186 1133,186 1137,240 1143,288 1124,307 1113,323 1095,328 1079,333 1055,339 1052,341 1057,320 1065,299 1060,240" stroke="#5a0028" stroke-width="10"/>
<polygon points="1133,186 1173,184 1190,186 1207,183 1233,166 1253,163 1253,158 1256,205 1254,222 1241,261 1223,283 1212,297 1196,291 1175,296 1159,288 1143,288 1137,240" stroke="#a00818" stroke-width="10"/>
<polygon points="1055,339 1079,333 1095,328 1113,323 1124,307 1143,288 1159,288 1175,296 1196,291 1212,297 1220,320 1225,333 1220,341 1207,357 1196,368 1100,376 1055,384 1022,388 1021,369 1032,370 1044,365 1052,341" stroke="#5a0028" stroke-width="10"/>
<polygon points="1022,388 1055,384 1100,376 1196,368 1207,357 1244,365 1215,393 1195,412 1174,430 1136,441 1060,445 992,447 1003,413 1009,400 1012,393" stroke="#a00818" stroke-width="10"/>
<polygon points="992,447 1060,445 1060,618 1040,617 1016,620 1013,600 953,600 960,578 971,551 964,527 965,500 975,473" stroke="#5a0028" stroke-width="10"/>
<polygon points="1060,445 1136,441 1151,500 1164,553 1165,590 1082,594 1082,616 1070,620 1060,618" stroke="#5a0028" stroke-width="10"/>
<polygon points="1136,441 1174,430 1207,433 1231,467 1264,497 1284,520 1291,533 1282,567 1278,593 1264,596 1262,588 1172,592 1165,590 1164,553 1151,500" stroke="#a00818" stroke-width="10"/>
<polygon points="1082,594 1165,590 1172,592 1262,588 1264,596 1278,593 1290,610 1304,643 1331,677 1344,713 1349,770 1338,782 1324,783 1291,740 1264,710 1256,680 1251,660 1231,633 1211,620 1191,620 1164,634 1131,620 1104,611 1082,616" stroke="#a00818" stroke-width="10"/>
<polygon points="1244,365 1330,348 1419,337 1400,357 1424,373 1400,387 1407,400 1384,427 1354,450 1321,427 1281,427 1277,417 1231,420 1207,433 1174,430 1174,430 1195,412 1215,393" stroke="#a00818" stroke-width="10"/>
<polygon points="1207,433 1231,420 1277,417 1281,427 1321,427 1354,450 1331,493 1294,513 1284,520 1264,497 1231,467" stroke="#a00818" stroke-width="10"/>
<polygon points="1256,205 1258,239 1296,242 1324,244 1311,260 1289,284 1282,318 1267,333 1244,340 1225,333 1220,320 1212,297 1223,283 1241,261 1254,222" stroke="#a00818" stroke-width="10"/>
<polygon points="1324,244 1342,244 1362,258 1367,278 1384,280 1393,291 1396,313 1411,333 1419,337 1330,348 1244,365 1207,357 1220,341 1225,333 1244,340 1267,333 1282,318 1289,284 1311,260" stroke="#a00818" stroke-width="10"/>
<polygon points="1408,283 1420,290 1424,305 1413,300" stroke="#a00818" stroke-width="10"/>
<polygon points="1253,158 1256,154 1271,150 1378,132 1394,134 1405,152 1404,180 1417,197 1407,214 1400,218 1356,225 1311,232 1258,239" stroke="#002a70" stroke-width="10"/>
<polygon points="1271,150 1269,143 1289,118 1285,107 1307,96 1347,87 1360,51 1369,27 1396,16 1418,13 1425,51 1439,74 1440,89 1441,120 1443,143 1436,161 1430,161 1405,152 1394,134 1378,132" stroke="#002a70" stroke-width="10"/>
<polygon points="1440,166 1472,154 1474,158 1443,174" stroke="#001040" stroke-width="10"/>
<polygon points="1418,13 1467,9 1456,29 1454,58 1459,85 1440,89 1439,74 1425,51" stroke="#002a70" stroke-width="10"/>
<polygon points="1467,9 1479,-5 1485,22 1496,56 1503,65 1496,76 1459,85 1454,58 1456,29" stroke="#002a70" stroke-width="10"/>
<polygon points="1479,-5 1545,-5 1537,18 1514,33 1503,58 1503,65 1496,56 1485,22" stroke="#002a70" stroke-width="10"/>
<polygon points="1440,89 1459,85 1496,76 1503,65 1508,96 1530,110 1532,116 1519,118 1501,109 1492,107 1441,120" stroke="#002a70" stroke-width="10"/>
<polygon points="1441,120 1492,107 1490,127 1485,132 1463,143 1443,143" stroke="#002a70" stroke-width="10"/>
<polygon points="1492,107 1501,109 1499,125 1490,127" stroke="#002a70" stroke-width="10"/>
<polygon points="1405,152 1430,161 1436,172 1441,200 1431,233 1407,214 1417,197 1404,180" stroke="#002a70" stroke-width="10"/>
<polygon points="1258,239 1311,232 1356,225 1400,218 1400,224 1422,253 1420,278 1400,273 1392,240 1386,250 1384,280 1367,278 1362,258 1342,244 1324,244 1296,242" stroke="#002a70" stroke-width="10"/>
<polygon points="1131,677 1191,687 1201,787 1164,777 1157,770 1131,813 1104,830 1124,803 1097,793 1087,763 1114,750 1107,733 1087,727 1107,717 1097,697" stroke="#5a0028" stroke-width="10"/>
<polygon points="972,781 985,781 997,797 984,802 976,810 970,797" stroke="#001040" stroke-width="10"/>
</g>
<mask id="inland" maskUnits="userSpaceOnUse" x="0" y="-10" width="1596" height="920"><g filter="url(#erode)" fill="#fff" stroke="#fff" stroke-width="2.4"><polygon points="74,-5 57,23 53,63 50,67 157,102 240,119 263,40 257,27 279,-5"/><polygon points="50,67 43,100 32,120 37,150 42,187 47,217 56,226 53,267 57,300 77,333 80,363 110,387 133,403 150,430 163,450 160,467 233,476 240,447 257,417 250,390 132,207 157,102"/><polygon points="157,102 240,119 318,135 287,300 283,322 277,350 253,357 250,390 132,207"/><polygon points="279,-5 257,27 263,40 240,119 318,135 400,152 417,49 367,50 335,-5"/><polygon points="335,-5 367,50 417,49 607,63 612,32 614,-5"/><polygon points="417,49 607,63 601,139 594,211 450,200 397,190 400,152"/><polygon points="318,135 400,152 397,190 450,200 430,345 283,322 287,300"/><polygon points="450,200 594,211 650,217 647,300 639,368 606,368 430,345"/><polygon points="283,322 430,345 400,557 333,540 233,476 240,447 257,417 250,390 253,357 277,350"/><polygon points="430,345 606,368 604,389 594,557 532,550 483,548 427,547 423,557 400,557"/><polygon points="614,-5 612,32 799,42 802,-5"/><polygon points="612,32 607,63 601,139 749,150 775,158 802,163 809,133 809,67 800,52 799,42"/><polygon points="601,139 749,150 775,158 802,163 822,217 829,240 832,263 650,257 650,217 594,211"/><polygon points="650,257 832,263 855,300 860,312 860,378 639,368 647,300 650,217"/><polygon points="606,368 639,368 860,378 860,397 860,497 849,497 830,497 809,502 795,498 779,502 765,494 749,492 735,483 719,480 705,468 695,457 698,393 604,389"/><polygon points="604,389 698,393 695,457 705,468 719,480 735,483 749,492 765,494 779,502 795,498 809,502 830,497 849,497 860,497 875,510 879,527 878,567 893,604 884,647 855,650 842,678 815,687 799,695 779,715 766,747 770,793 740,787 713,773 695,733 672,700 659,667 632,641 599,638 575,664 549,650 532,594 505,568 483,548 532,550 594,557"/><polygon points="802,-5 799,42 800,52 809,67 809,133 950,133 948,122 930,97 907,86 903,45 914,38 916,9 932,-5"/><polygon points="809,133 950,133 956,157 968,168 979,180 975,203 956,215 945,243 942,245 829,240 822,217 802,163"/><polygon points="829,240 942,245 945,243 953,267 972,296 983,309 988,331 1007,352 1017,365 1021,369 1022,388 1012,393 1009,400 1003,413 996,411 995,396 860,397 860,378 860,312 855,300 832,263"/><polygon points="860,397 995,396 996,411 1003,413 992,447 975,473 965,500 964,527 879,527 875,510 860,497"/><polygon points="879,527 964,527 971,551 960,578 953,600 1013,600 1016,620 1024,632 1029,669 1004,664 971,667 950,655 936,652 910,650 884,647 893,604 878,567"/><polygon points="916,9 914,38 903,45 907,86 930,97 948,122 950,133 956,157 968,168 1043,166 1040,140 1043,113 1049,77 1035,87 1042,63 1036,50 1024,34 1002,29 972,20 948,8"/><polygon points="968,168 1043,166 1047,175 1057,195 1060,240 1065,299 1057,320 1052,341 1044,365 1032,370 1021,369 1017,365 1007,352 988,331 983,309 972,296 953,267 945,243 945,243 956,215 975,203 979,180"/><polygon points="977,9 997,-2 1015,-2 1042,9 1065,12 1106,7 1126,11 1128,23 1101,20 1074,32 1058,45 1047,59 1042,63 1036,50 1024,34 1002,29 972,20"/><polygon points="1112,38 1146,45 1157,68 1150,99 1143,110 1172,88 1182,108 1185,135 1173,184 1133,186 1082,186 1085,158 1076,117 1083,74 1101,59"/><polygon points="1057,195 1065,191 1082,186 1133,186 1137,240 1143,288 1124,307 1113,323 1095,328 1079,333 1055,339 1052,341 1057,320 1065,299 1060,240"/><polygon points="1133,186 1173,184 1190,186 1207,183 1233,166 1253,163 1253,158 1256,205 1254,222 1241,261 1223,283 1212,297 1196,291 1175,296 1159,288 1143,288 1137,240"/><polygon points="1055,339 1079,333 1095,328 1113,323 1124,307 1143,288 1159,288 1175,296 1196,291 1212,297 1220,320 1225,333 1220,341 1207,357 1196,368 1100,376 1055,384 1022,388 1021,369 1032,370 1044,365 1052,341"/><polygon points="1022,388 1055,384 1100,376 1196,368 1207,357 1244,365 1215,393 1195,412 1174,430 1136,441 1060,445 992,447 1003,413 1009,400 1012,393"/><polygon points="992,447 1060,445 1060,618 1040,617 1016,620 1013,600 953,600 960,578 971,551 964,527 965,500 975,473"/><polygon points="1060,445 1136,441 1151,500 1164,553 1165,590 1082,594 1082,616 1070,620 1060,618"/><polygon points="1136,441 1174,430 1207,433 1231,467 1264,497 1284,520 1291,533 1282,567 1278,593 1264,596 1262,588 1172,592 1165,590 1164,553 1151,500"/><polygon points="1082,594 1165,590 1172,592 1262,588 1264,596 1278,593 1290,610 1304,643 1331,677 1344,713 1349,770 1338,782 1324,783 1291,740 1264,710 1256,680 1251,660 1231,633 1211,620 1191,620 1164,634 1131,620 1104,611 1082,616"/><polygon points="1244,365 1330,348 1419,337 1400,357 1424,373 1400,387 1407,400 1384,427 1354,450 1321,427 1281,427 1277,417 1231,420 1207,433 1174,430 1174,430 1195,412 1215,393"/><polygon points="1207,433 1231,420 1277,417 1281,427 1321,427 1354,450 1331,493 1294,513 1284,520 1264,497 1231,467"/><polygon points="1256,205 1258,239 1296,242 1324,244 1311,260 1289,284 1282,318 1267,333 1244,340 1225,333 1220,320 1212,297 1223,283 1241,261 1254,222"/><polygon points="1324,244 1342,244 1362,258 1367,278 1384,280 1393,291 1396,313 1411,333 1419,337 1330,348 1244,365 1207,357 1220,341 1225,333 1244,340 1267,333 1282,318 1289,284 1311,260"/><polygon points="1408,283 1420,290 1424,305 1413,300"/><polygon points="1253,158 1256,154 1271,150 1378,132 1394,134 1405,152 1404,180 1417,197 1407,214 1400,218 1356,225 1311,232 1258,239"/><polygon points="1271,150 1269,143 1289,118 1285,107 1307,96 1347,87 1360,51 1369,27 1396,16 1418,13 1425,51 1439,74 1440,89 1441,120 1443,143 1436,161 1430,161 1405,152 1394,134 1378,132"/><polygon points="1440,166 1472,154 1474,158 1443,174"/><polygon points="1418,13 1467,9 1456,29 1454,58 1459,85 1440,89 1439,74 1425,51"/><polygon points="1467,9 1479,-5 1485,22 1496,56 1503,65 1496,76 1459,85 1454,58 1456,29"/><polygon points="1479,-5 1545,-5 1537,18 1514,33 1503,58 1503,65 1496,56 1485,22"/><polygon points="1440,89 1459,85 1496,76 1503,65 1508,96 1530,110 1532,116 1519,118 1501,109 1492,107 1441,120"/><polygon points="1441,120 1492,107 1490,127 1485,132 1463,143 1443,143"/><polygon points="1492,107 1501,109 1499,125 1490,127"/><polygon points="1405,152 1430,161 1436,172 1441,200 1431,233 1407,214 1417,197 1404,180"/><polygon points="1258,239 1311,232 1356,225 1400,218 1400,224 1422,253 1420,278 1400,273 1392,240 1386,250 1384,280 1367,278 1362,258 1342,244 1324,244 1296,242"/><polygon points="1131,677 1191,687 1201,787 1164,777 1157,770 1131,813 1104,830 1124,803 1097,793 1087,763 1114,750 1107,733 1087,727 1107,717 1097,697"/><polygon points="972,781 985,781 997,797 984,802 976,810 970,797"/></g></mask>
<g fill="none" stroke-linejoin="round" stroke-width="3.8" mask="url(#inland)">
<polygon points="74,-5 57,23 53,63 50,67 157,102 240,119 263,40 257,27 279,-5" stroke="#c8e6ff"/>
<polygon points="50,67 43,100 32,120 37,150 42,187 47,217 56,226 53,267 57,300 77,333 80,363 110,387 133,403 150,430 163,450 160,467 233,476 240,447 257,417 250,390 132,207 157,102" stroke="#c8e6ff"/>
<polygon points="157,102 240,119 318,135 287,300 283,322 277,350 253,357 250,390 132,207" stroke="#ffcbe0"/>
<polygon points="279,-5 257,27 263,40 240,119 318,135 400,152 417,49 367,50 335,-5" stroke="#ffcbe0"/>
<polygon points="335,-5 367,50 417,49 607,63 612,32 614,-5" stroke="#ffcbe0"/>
<polygon points="417,49 607,63 601,139 594,211 450,200 397,190 400,152" stroke="#ffcbe0"/>
<polygon points="318,135 400,152 397,190 450,200 430,345 283,322 287,300" stroke="#ffcbe0"/>
<polygon points="450,200 594,211 650,217 647,300 639,368 606,368 430,345" stroke="#ffcbe0"/>
<polygon points="283,322 430,345 400,557 333,540 233,476 240,447 257,417 250,390 253,357 277,350" stroke="#ffcbe0"/>
<polygon points="430,345 606,368 604,389 594,557 532,550 483,548 427,547 423,557 400,557" stroke="#ffcbe0"/>
<polygon points="614,-5 612,32 799,42 802,-5" stroke="#ffcbe0"/>
<polygon points="612,32 607,63 601,139 749,150 775,158 802,163 809,133 809,67 800,52 799,42" stroke="#ffcbe0"/>
<polygon points="601,139 749,150 775,158 802,163 822,217 829,240 832,263 650,257 650,217 594,211" stroke="#ffcbe0"/>
<polygon points="650,257 832,263 855,300 860,312 860,378 639,368 647,300 650,217" stroke="#ffcbe0"/>
<polygon points="606,368 639,368 860,378 860,397 860,497 849,497 830,497 809,502 795,498 779,502 765,494 749,492 735,483 719,480 705,468 695,457 698,393 604,389" stroke="#ffcbe0"/>
<polygon points="604,389 698,393 695,457 705,468 719,480 735,483 749,492 765,494 779,502 795,498 809,502 830,497 849,497 860,497 875,510 879,527 878,567 893,604 884,647 855,650 842,678 815,687 799,695 779,715 766,747 770,793 740,787 713,773 695,733 672,700 659,667 632,641 599,638 575,664 549,650 532,594 505,568 483,548 532,550 594,557" stroke="#ffcbe0"/>
<polygon points="802,-5 799,42 800,52 809,67 809,133 950,133 948,122 930,97 907,86 903,45 914,38 916,9 932,-5" stroke="#c8e6ff"/>
<polygon points="809,133 950,133 956,157 968,168 979,180 975,203 956,215 945,243 942,245 829,240 822,217 802,163" stroke="#ffcbe0"/>
<polygon points="829,240 942,245 945,243 953,267 972,296 983,309 988,331 1007,352 1017,365 1021,369 1022,388 1012,393 1009,400 1003,413 996,411 995,396 860,397 860,378 860,312 855,300 832,263" stroke="#ffcbe0"/>
<polygon points="860,397 995,396 996,411 1003,413 992,447 975,473 965,500 964,527 879,527 875,510 860,497" stroke="#ffcbe0"/>
<polygon points="879,527 964,527 971,551 960,578 953,600 1013,600 1016,620 1024,632 1029,669 1004,664 971,667 950,655 936,652 910,650 884,647 893,604 878,567" stroke="#ffcbe0"/>
<polygon points="916,9 914,38 903,45 907,86 930,97 948,122 950,133 956,157 968,168 1043,166 1040,140 1043,113 1049,77 1035,87 1042,63 1036,50 1024,34 1002,29 972,20 948,8" stroke="#c8e6ff"/>
<polygon points="968,168 1043,166 1047,175 1057,195 1060,240 1065,299 1057,320 1052,341 1044,365 1032,370 1021,369 1017,365 1007,352 988,331 983,309 972,296 953,267 945,243 945,243 956,215 975,203 979,180" stroke="#c8e6ff"/>
<polygon points="977,9 997,-2 1015,-2 1042,9 1065,12 1106,7 1126,11 1128,23 1101,20 1074,32 1058,45 1047,59 1042,63 1036,50 1024,34 1002,29 972,20" stroke="#c8e6ff"/>
<polygon points="1112,38 1146,45 1157,68 1150,99 1143,110 1172,88 1182,108 1185,135 1173,184 1133,186 1082,186 1085,158 1076,117 1083,74 1101,59" stroke="#c8e6ff"/>
<polygon points="1057,195 1065,191 1082,186 1133,186 1137,240 1143,288 1124,307 1113,323 1095,328 1079,333 1055,339 1052,341 1057,320 1065,299 1060,240" stroke="#ffcbe0"/>
<polygon points="1133,186 1173,184 1190,186 1207,183 1233,166 1253,163 1253,158 1256,205 1254,222 1241,261 1223,283 1212,297 1196,291 1175,296 1159,288 1143,288 1137,240" stroke="#ffcbe0"/>
<polygon points="1055,339 1079,333 1095,328 1113,323 1124,307 1143,288 1159,288 1175,296 1196,291 1212,297 1220,320 1225,333 1220,341 1207,357 1196,368 1100,376 1055,384 1022,388 1021,369 1032,370 1044,365 1052,341" stroke="#ffcbe0"/>
<polygon points="1022,388 1055,384 1100,376 1196,368 1207,357 1244,365 1215,393 1195,412 1174,430 1136,441 1060,445 992,447 1003,413 1009,400 1012,393" stroke="#ffcbe0"/>
<polygon points="992,447 1060,445 1060,618 1040,617 1016,620 1013,600 953,600 960,578 971,551 964,527 965,500 975,473" stroke="#ffcbe0"/>
<polygon points="1060,445 1136,441 1151,500 1164,553 1165,590 1082,594 1082,616 1070,620 1060,618" stroke="#ffcbe0"/>
<polygon points="1136,441 1174,430 1207,433 1231,467 1264,497 1284,520 1291,533 1282,567 1278,593 1264,596 1262,588 1172,592 1165,590 1164,553 1151,500" stroke="#ffcbe0"/>
<polygon points="1082,594 1165,590 1172,592 1262,588 1264,596 1278,593 1290,610 1304,643 1331,677 1344,713 1349,770 1338,782 1324,783 1291,740 1264,710 1256,680 1251,660 1231,633 1211,620 1191,620 1164,634 1131,620 1104,611 1082,616" stroke="#ffcbe0"/>
<polygon points="1244,365 1330,348 1419,337 1400,357 1424,373 1400,387 1407,400 1384,427 1354,450 1321,427 1281,427 1277,417 1231,420 1207,433 1174,430 1174,430 1195,412 1215,393" stroke="#ffcbe0"/>
<polygon points="1207,433 1231,420 1277,417 1281,427 1321,427 1354,450 1331,493 1294,513 1284,520 1264,497 1231,467" stroke="#ffcbe0"/>
<polygon points="1256,205 1258,239 1296,242 1324,244 1311,260 1289,284 1282,318 1267,333 1244,340 1225,333 1220,320 1212,297 1223,283 1241,261 1254,222" stroke="#ffcbe0"/>
<polygon points="1324,244 1342,244 1362,258 1367,278 1384,280 1393,291 1396,313 1411,333 1419,337 1330,348 1244,365 1207,357 1220,341 1225,333 1244,340 1267,333 1282,318 1289,284 1311,260" stroke="#ffcbe0"/>
<polygon points="1408,283 1420,290 1424,305 1413,300" stroke="#ffcbe0"/>
<polygon points="1253,158 1256,154 1271,150 1378,132 1394,134 1405,152 1404,180 1417,197 1407,214 1400,218 1356,225 1311,232 1258,239" stroke="#c8e6ff"/>
<polygon points="1271,150 1269,143 1289,118 1285,107 1307,96 1347,87 1360,51 1369,27 1396,16 1418,13 1425,51 1439,74 1440,89 1441,120 1443,143 1436,161 1430,161 1405,152 1394,134 1378,132" stroke="#c8e6ff"/>
<polygon points="1418,13 1467,9 1456,29 1454,58 1459,85 1440,89 1439,74 1425,51" stroke="#c8e6ff"/>
<polygon points="1467,9 1479,-5 1485,22 1496,56 1503,65 1496,76 1459,85 1454,58 1456,29" stroke="#c8e6ff"/>
<polygon points="1479,-5 1545,-5 1537,18 1514,33 1503,58 1503,65 1496,56 1485,22" stroke="#c8e6ff"/>
<polygon points="1440,89 1459,85 1496,76 1503,65 1508,96 1530,110 1532,116 1519,118 1501,109 1492,107 1441,120" stroke="#c8e6ff"/>
<polygon points="1441,120 1492,107 1490,127 1485,132 1463,143 1443,143" stroke="#c8e6ff"/>
<polygon points="1492,107 1501,109 1499,125 1490,127" stroke="#c8e6ff"/>
<polygon points="1405,152 1430,161 1436,172 1441,200 1431,233 1407,214 1417,197 1404,180" stroke="#c8e6ff"/>
<polygon points="1258,239 1311,232 1356,225 1400,218 1400,224 1422,253 1420,278 1400,273 1392,240 1386,250 1384,280 1367,278 1362,258 1342,244 1324,244 1296,242" stroke="#c8e6ff"/>
<polygon points="1131,677 1191,687 1201,787 1164,777 1157,770 1131,813 1104,830 1124,803 1097,793 1087,763 1114,750 1107,733 1087,727 1107,717 1097,697" stroke="#ffcbe0"/>
</g>
<ellipse cx="1011" cy="628" rx="11" ry="7" fill="#ffe0ea"/>
<g fill="none" stroke="#b4b4b4" stroke-width="3" opacity="0.7" filter="url(#bl2)"><polyline points="1155,792 1120,822 1085,836 1052,850"/><polyline points="1206,790 1232,800 1252,816 1272,836"/></g>
<circle cx="867" cy="725" r="3" fill="#111"/>
<circle cx="910" cy="743" r="2.2" fill="#111"/>
<circle cx="957" cy="762" r="3" fill="#111"/>
</g>
<g filter="url(#bl2)">
<circle cx="224" cy="209" r="44" fill="url(#tg)"/>
<circle cx="537" cy="291" r="44" fill="url(#tg)"/>
<circle cx="510" cy="456" r="44" fill="url(#tg)"/>
<circle cx="885" cy="192" r="44" fill="url(#tg)"/>
<circle cx="919" cy="338" r="44" fill="url(#tg)"/>
<circle cx="918" cy="457" r="44" fill="url(#tg)"/>
<circle cx="1197" cy="238" r="44" fill="url(#tg)"/>
<circle cx="1334" cy="309" r="44" fill="url(#tg)"/>
<circle cx="1296" cy="687" r="44" fill="url(#tg)"/>
</g>
</svg>
<svg width="1596" height="900" viewBox="0 0 1596 900" style="position:absolute;left:0;top:0">
<defs><filter id="tb" x="-5%" y="-30%" width="110%" height="160%"><feGaussianBlur stdDeviation="0.7"/></filter><filter id="sb" x="-20%" y="-20%" width="140%" height="140%"><feGaussianBlur stdDeviation="1.1"/></filter><radialGradient id="tl" cx="50%" cy="50%" r="50%"><stop offset="0" stop-color="#7a5a10"/><stop offset="0.10" stop-color="#7a5a10"/><stop offset="0.16" stop-color="#ffe070"/><stop offset="0.36" stop-color="#ffe8a0"/><stop offset="0.44" stop-color="#b08878"/><stop offset="0.62" stop-color="#8a6660"/><stop offset="0.70" stop-color="#181014"/><stop offset="0.93" stop-color="#181014"/><stop offset="1" stop-color="#181014" stop-opacity="0"/></radialGradient><radialGradient id="sq1" cx="50%" cy="50%" r="70%"><stop offset="0" stop-color="#1c62b8"/><stop offset="1" stop-color="#07357e"/></radialGradient><radialGradient id="sq2" cx="50%" cy="50%" r="70%"><stop offset="0" stop-color="#b01848"/><stop offset="1" stop-color="#780828"/></radialGradient><radialGradient id="sq3" cx="50%" cy="50%" r="70%"><stop offset="0" stop-color="#f42434"/><stop offset="1" stop-color="#d81c2c"/></radialGradient></defs>
<rect x="12" y="599" width="485" height="257" fill="#777" opacity=".6" filter="url(#sb)"/>
<rect x="8.5" y="595.5" width="483" height="256" fill="#fff" stroke="#111" stroke-width="3"/>
<g filter="url(#sb)">
<rect x="30" y="620" width="29" height="28" fill="url(#sq1)"/>
<rect x="30" y="678" width="28" height="29" fill="url(#sq2)"/>
<rect x="30" y="734" width="28" height="29" fill="url(#sq3)"/>
<circle cx="47" cy="808" r="27" fill="url(#tl)"/>
</g>
<g filter="url(#tb)" font-family="Liberation Sans, sans-serif" font-size="34" fill="#383838">
<text x="89" y="645" textLength="167" lengthAdjust="spacingAndGlyphs">Democratic</text>
<text x="89" y="703" textLength="66" lengthAdjust="spacingAndGlyphs">Bush</text>
<text x="166" y="703" textLength="98" lengthAdjust="spacingAndGlyphs">margin</text>
<text x="273" y="703" textLength="60" lengthAdjust="spacingAndGlyphs">20%</text>
<text x="346" y="703" textLength="25" lengthAdjust="spacingAndGlyphs">or</text>
<text x="387" y="703" textLength="76" lengthAdjust="spacingAndGlyphs">more</text>
<text x="89" y="761" textLength="66" lengthAdjust="spacingAndGlyphs">Bush</text>
<text x="166" y="761" textLength="98" lengthAdjust="spacingAndGlyphs">margin</text>
<text x="274" y="761" textLength="97" lengthAdjust="spacingAndGlyphs">10-19%</text>
<text x="89" y="820" textLength="66" lengthAdjust="spacingAndGlyphs">Bush</text>
<text x="166" y="820" textLength="98" lengthAdjust="spacingAndGlyphs">margin</text>
<text x="274" y="820" textLength="52" lengthAdjust="spacingAndGlyphs">less</text>
<text x="338" y="820" textLength="63" lengthAdjust="spacingAndGlyphs">than</text>
<text x="415" y="820" textLength="52" lengthAdjust="spacingAndGlyphs">10%</text>
</g>
<defs><linearGradient id="wb" x1="0" y1="0" x2="0" y2="1"><stop offset="0" stop-color="#fff" stop-opacity="0"/><stop offset="0.55" stop-color="#fff" stop-opacity="0.9"/><stop offset="1" stop-color="#fff"/></linearGradient></defs>
<rect x="0" y="861" width="1596" height="23" fill="url(#wb)"/>
<rect x="0" y="883.8" width="1596" height="17" fill="#000"/>
<text x="18" y="927.7" font-family="Liberation Sans, sans-serif" font-weight="bold" font-size="45" fill="#fff" filter="url(#tb)">BEHIND ENEMY LINES: President Bush aims to win more of the battleground</text>
</svg>
</div>
</body></html>
